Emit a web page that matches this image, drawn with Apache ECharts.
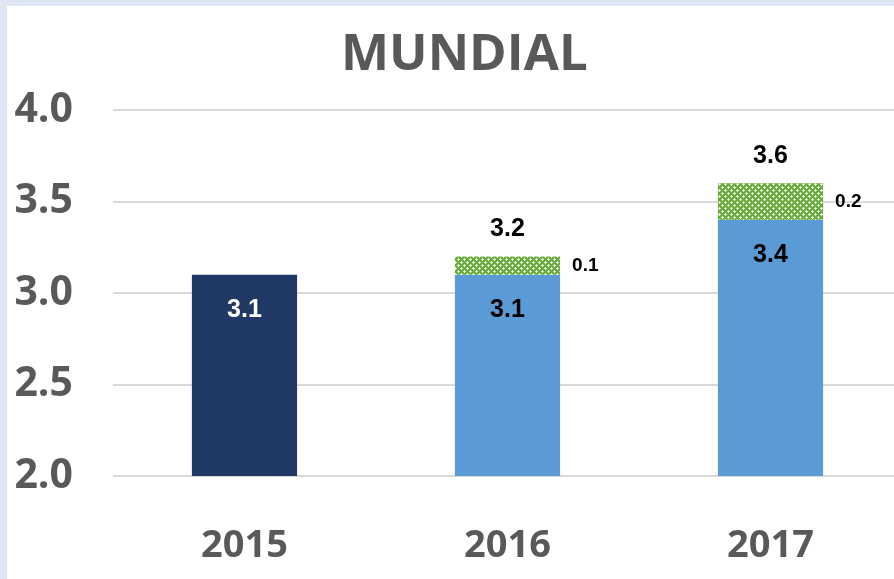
<!DOCTYPE html>
<html>
<head>
<meta charset="utf-8">
<script src="https://cdn.jsdelivr.net/npm/echarts@6/dist/echarts.min.js"></script>
<style>
  html, body { margin: 0; padding: 0; width: 894px; height: 579px; overflow: hidden; background: #dce7f3; }
  #chart { position: absolute; left: 7px; top: 6px; width: 895px; height: 573px; background: #ffffff; }
</style>
</head>
<body>
<div id="chart"></div>
<script>
var categories = ['2015', '2016', '2017'];
var baseValues = [3.1, 3.1, 3.4];
var extraValues = ['-', 0.1, 0.2];
var totalValues = ['-', 3.2, 3.6];
var yTicks = [2.0, 2.5, 3.0, 3.5, 4.0];

function makePattern(){
    var c = document.createElement('canvas');
    c.width = 6; c.height = 6;
    var ctx = c.getContext('2d');
    ctx.fillStyle = '#6aab3e';
    ctx.fillRect(0, 0, 6, 6);
    ctx.fillStyle = '#e6f2dc';
    ctx.fillRect(1, 0, 1, 3);
    ctx.fillRect(0, 1, 3, 1);
    ctx.fillRect(4, 3, 1, 3);
    ctx.fillRect(3, 4, 3, 1);
    return c;
}

var textGray = '#595959';
var font = 'Open Sans';
var labelFont = 'Liberation Sans Narrow, Liberation Sans';

var chart = echarts.init(document.getElementById('chart'));
var option = {
    animation: false,
    title: {
        text: 'MUNDIAL',
        left: 329,
        top: 19,
        textStyle: { fontFamily: font, fontSize: 51, fontWeight: 'bold', color: textGray }
    },
    grid: { left: 106, right: 0, top: 104, bottom: 103 },
    xAxis: {
        type: 'category',
        data: categories,
        axisLine: { show: false },
        axisTick: { show: false },
        axisLabel: { margin: 51, fontFamily: font, fontSize: 38, fontWeight: 'bold', color: textGray }
    },
    yAxis: {
        type: 'value',
        min: yTicks[0],
        max: yTicks[yTicks.length - 1],
        interval: 0.5,
        axisLine: { show: false },
        axisTick: { show: false },
        splitLine: { lineStyle: { color: '#d9d9d9', width: 2 } },
        axisLabel: {
            margin: 40, fontFamily: font, fontSize: 41, fontWeight: 'bold', color: textGray,
            formatter: function(v){ return v.toFixed(1); }
        }
    },
    series: [
        {
            type: 'bar',
            stack: 'total',
            barWidth: '40%',
            data: baseValues.map(function(v, i){
                return {
                    value: v,
                    itemStyle: { color: i === 0 ? '#203864' : '#5b9bd5' },
                    label: { color: i === 0 ? '#ffffff' : '#000000' }
                };
            }),
            label: {
                show: true,
                position: 'insideTop',
                distance: 23,
                fontFamily: labelFont,
                fontSize: 25,
                fontWeight: 'bold',
                formatter: function(p){ return p.value.toFixed(1); }
            }
        },
        {
            type: 'bar',
            stack: 'total',
            barWidth: '40%',
            data: extraValues,
            itemStyle: { color: { image: makePattern(), repeat: 'repeat' } },
            label: {
                show: true,
                position: 'right',
                distance: 12,
                fontFamily: labelFont,
                fontSize: 19,
                fontWeight: 'bold',
                color: '#000000',
                formatter: function(p){ return p.value.toFixed(1); }
            }
        },
        {
            type: 'scatter',
            data: totalValues,
            symbolSize: 1,
            itemStyle: { color: '#ffffff', opacity: 0 },
            label: {
                show: true,
                position: 'top',
                distance: 14,
                fontFamily: labelFont,
                fontSize: 25,
                fontWeight: 'bold',
                color: '#000000',
                opacity: 1,
                formatter: function(p){ return p.value.toFixed(1); }
            }
        }
    ]
};
chart.setOption(option);
</script>
</body>
</html>
